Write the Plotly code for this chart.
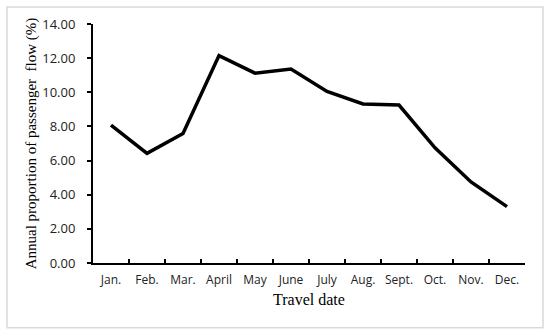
import plotly.graph_objects as go

months = ["Jan.", "Feb.", "Mar.", "April", "May", "June", "July", "Aug.", "Sept.", "Oct.", "Nov.", "Dec."]
proportion = [8.08, 6.42, 7.58, 12.15, 11.12, 11.36, 10.05, 9.32, 9.25, 6.75, 4.75, 3.30]
y_ticks = [0, 2, 4, 6, 8, 10, 12, 14]
y_tick_labels = ["0.00", "2.00", "4.00", "6.00", "8.00", "10.00", "12.00", "14.00"]

fig = go.Figure()
fig.add_trace(go.Scatter(x=months, y=proportion, mode="lines",
                         line=dict(color="black", width=3.5)))

L, R, T, B = 93, 25, 23.5, 70.5
W, H = 550, 334
pw, ph = W - L - R, H - T - B

def px_to_paper_x(px):
    return (px - L) / pw

def px_to_paper_y(py):
    return (H - B - py) / ph

fig.update_layout(
    width=W, height=H,
    margin=dict(l=L, r=R, t=T, b=B, autoexpand=False),
    paper_bgcolor="white", plot_bgcolor="white",
    showlegend=False,
    xaxis=dict(
        type="category", range=[-0.5, 11.5], autorange=False,
        tickson="boundaries", ticks="inside", ticklen=4,
        tickcolor="black", tickwidth=1.5, tickangle=0,
        showline=True, linecolor="black", linewidth=2,
        showgrid=False, zeroline=False, automargin=False,
        ticklabelstandoff=5,
        tickfont=dict(family="Open Sans, Liberation Sans, sans-serif", size=12, color="#222"),
        title=dict(text="Travel date", font=dict(family="Liberation Serif, serif", size=16, color="black"), standoff=6),
    ),
    yaxis=dict(
        range=[0, 14], tickvals=y_ticks, ticktext=y_tick_labels,
        ticks="outside", ticklen=4, tickcolor="black", tickwidth=1.5,
        showline=True, linecolor="black", linewidth=2,
        showgrid=False, zeroline=False, automargin=False,
        ticklabelstandoff=9,
        tickfont=dict(family="Open Sans, Liberation Sans, sans-serif", size=13, color="#222"),
        title=dict(text="Annual proportion of passenger  flow (%)",
                   font=dict(family="Liberation Serif, serif", size=15, color="black"), standoff=2),
    ),
    shapes=[dict(type="rect", xref="paper", yref="paper",
                 x0=px_to_paper_x(7), x1=px_to_paper_x(543),
                 y0=px_to_paper_y(328.5), y1=px_to_paper_y(6.5),
                 line=dict(color="#d9d9d9", width=1.5), layer="below")],
)

fig.write_html("out.html", config={"displayModeBar": False},
               post_script="document.body.style.margin='0';")
